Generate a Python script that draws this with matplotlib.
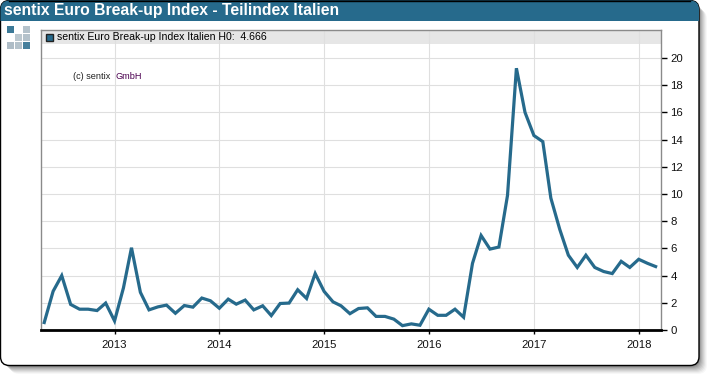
import pandas as pd
import matplotlib
matplotlib.use('Agg')
import matplotlib.pyplot as plt
from matplotlib.patches import FancyBboxPatch, Rectangle

plt.rcParams['font.family'] = ['Liberation Sans', 'DejaVu Sans']

W, H = 710, 376
TEAL = '#266a8c'

title = 'sentix Euro Break-up Index - Teilindex Italien'
legend_label = 'sentix Euro Break-up Index Italien H0:  4.666'

months = pd.date_range('2012-05-01', '2018-03-01', freq='MS')
values = [0.55, 2.85, 4.0, 1.88, 1.53, 1.53, 1.43, 1.98,
          0.67, 3.1, 6.05, 2.77, 1.48, 1.7, 1.83, 1.23, 1.8, 1.68, 2.35, 2.15,
          1.6, 2.27, 1.9, 2.2, 1.48, 1.78, 1.06, 1.95, 1.98, 2.96, 2.32, 4.15,
          2.84, 2.07, 1.78, 1.2, 1.58, 1.63, 1.0, 1.0, 0.8, 0.32, 0.45, 0.35,
          1.53, 1.08, 1.08, 1.53, 0.94, 4.9, 6.95, 5.95, 6.1, 9.9, 19.25, 16.0,
          14.3, 13.85, 9.7, 7.4, 5.5, 4.6, 5.5, 4.6, 4.3, 4.15, 5.05, 4.6,
          5.2, 4.9, 4.666]
year_ticks = ['2013', '2014', '2015', '2016', '2017', '2018']
y_ticks = list(range(0, 21, 2))


def fx(x):
    return x / W


def fy(y):
    return 1 - y / H


fig = plt.figure(figsize=(W / 100, H / 100), dpi=100, facecolor='white')

# frame, title bar and logo are drawn in pixel coordinates
bg = fig.add_axes([0, 0, 1, 1], zorder=0)
bg.set_xlim(0, W)
bg.set_ylim(H, 0)
bg.axis('off')

for off, a in [(9, 0.03), (8, 0.04), (7, 0.05), (6, 0.06), (5, 0.07), (4, 0.08), (3, 0.1), (2, 0.12)]:
    bg.add_patch(FancyBboxPatch((1 + off, 1 + off), 697, 364,
                                boxstyle='round,pad=0,rounding_size=9',
                                fc='black', ec='none', alpha=a))

bg.add_patch(FancyBboxPatch((0.5, 0.5), 698.5, 365,
                            boxstyle='round,pad=0,rounding_size=9',
                            fc='white', ec='black', lw=1))
bar = FancyBboxPatch((0.5, 0.5), 698.5, 365,
                     boxstyle='round,pad=0,rounding_size=9',
                     fc=TEAL, ec='none')
bg.add_patch(bar)
bar.set_clip_path(Rectangle((0, 0), W, 21, transform=bg.transData))
bg.plot([9, 690], [0.5, 0.5], color='black', lw=1)

logo = [(7, 26, TEAL, 0.9), (23, 26, '#b4c2cb', 1), (15, 34, '#bcc8cf', 1), (23, 34, '#b4c2cb', 1),
        (7, 42, '#aebcc6', 1), (15, 42, '#b4c2cb', 1), (23, 42, TEAL, 0.85)]
for lx, ly, c, a in logo:
    bg.add_patch(Rectangle((lx, ly), 6.5, 6.5, fc=c, ec='none', alpha=a))

bg.add_patch(Rectangle((40.5, 30), 620, 14, fc='#e6e6e6', ec='none'))

# chart
ax = fig.add_axes([fx(40.5), fy(330), 620 / W, 300 / H], zorder=1)
ax.patch.set_visible(False)
ax.plot(months, values, color=TEAL, lw=2.3, solid_joinstyle='miter', zorder=3, clip_on=False)
ax.set_xlim(pd.Timestamp('2012-04-18'), pd.Timestamp('2018-03-18'))
ax.set_ylim(0, 22.06)
ax.set_xticks([pd.Timestamp(y + '-01-01') for y in year_ticks])
ax.set_xticklabels(year_ticks)
ax.set_yticks(y_ticks)
ax.yaxis.tick_right()
ax.grid(True, color='#dfdfdf', lw=0.8)
ax.set_axisbelow(True)
ax.tick_params(axis='both', labelsize=8.2, length=4, width=1, color='black', labelcolor='#111111', pad=3)
ax.tick_params(axis='x', length=3, pad=4)
for side in ['top', 'left', 'right']:
    ax.spines[side].set_color('#8a8a8a')
    ax.spines[side].set_linewidth(1)
ax.spines['bottom'].set_color('black')
ax.spines['bottom'].set_linewidth(2)

# texts
fig.text(fx(4.5), fy(11), title, color='white', fontsize=11.35, fontweight='bold', va='center', ha='left')
bg.add_patch(Rectangle((45.5, 33.5), 7, 7, fc=TEAL, ec='#222222', lw=1))
fig.text(fx(57), fy(37.5), legend_label, color='black', fontsize=7.6, va='center', ha='left')
fig.text(fx(73), fy(76.5), '(c) sentix', color='#222222', fontsize=6.6, va='center', ha='left')
fig.text(fx(115.5), fy(76.5), 'GmbH', color='#4b0050', fontsize=6.6, va='center', ha='left')

fig.savefig('out.png', dpi=100, facecolor='white')
